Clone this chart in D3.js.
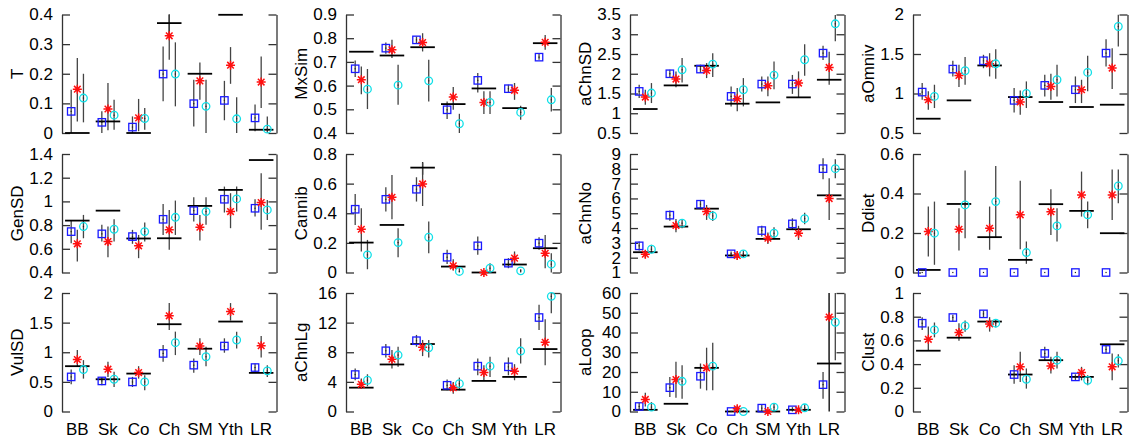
<!DOCTYPE html>
<html><head><meta charset="utf-8">
<script src="https://cdn.jsdelivr.net/npm/d3@7"></script>
<style>
body{margin:0;background:#fff;}
svg text{font-family:"Liberation Sans",Arial,sans-serif;}
</style></head>
<body><svg id="c" width="1131" height="441"></svg>
<script>
const categories = ["BB","Sk","Co","Ch","SM","Yth","LR"];
const panelNames = ["T","MxSim","aChnSD","aOmniv","GenSD","Cannib","aChnNo","Ddiet","VulSD","aChnLg","aLoop","Clust"];
const tickValues = [
  [0,0.1,0.2,0.3,0.4],[0.4,0.5,0.6,0.7,0.8,0.9],[0.5,1,1.5,2,2.5,3,3.5],[0.5,1,1.5,2],
  [0.4,0.6,0.8,1,1.2,1.4],[0,0.2,0.4,0.6,0.8],[1,2,3,4,5,6,7,8,9],[0,0.2,0.4,0.6],
  [0,0.5,1,1.5,2],[0,4,8,12,16],[0,10,20,30,40,50,60],[0,0.2,0.4,0.6,0.8,1]
];

// each entry: [value, low, high]; black reference entries may be [value] only
const T_black = [[0],[0.039],[0],[0.371,0.33,0.40],[0.2],[0.399],[0.011]];
const T_blue = [[0.073,0,0.146],[0.036,0,0.073],[0.02,0,0.056],[0.199,0.107,0.292],[0.099,0.022,0.18],[0.11,0.043,0.176],[0.051,0.006,0.096]];
const T_red = [[0.148,0.039,0.253],[0.081,0.009,0.169],[0.051,0.006,0.115],[0.328,0.247,0.40],[0.176,0.112,0.238],[0.229,0.166,0.29],[0.172,0.084,0.258]];
const T_cyan = [[0.118,0.036,0.2],[0.06,0.011,0.112],[0.049,0.011,0.084],[0.199,0.09,0.306],[0.09,0,0.18],[0.048,0,0.121],[0.013,0,0.056]];

const MxSim_black = [[0.743],[0.727],[0.762],[0.522],[0.588],[0.505],[0.779]];
const MxSim_blue = [[0.671,0.636,0.706],[0.758,0.734,0.782],[0.793,0.779,0.807],[0.498,0.459,0.533],[0.622,0.571,0.653],[0.587,0.569,0.604],[0.72,0.709,0.733]];
const MxSim_red = [[0.625,0.564,0.681],[0.751,0.716,0.793],[0.782,0.744,0.821],[0.552,0.498,0.594],[0.529,0.48,0.576],[0.58,0.54,0.611],[0.783,0.751,0.814]];
const MxSim_cyan = [[0.585,0.501,0.67],[0.602,0.519,0.688],[0.62,0.533,0.709],[0.439,0.4,0.481],[0.529,0.48,0.576],[0.487,0.456,0.515],[0.54,0.491,0.59]];

const aChnSD_black = [[1.107],[1.705],[2.202],[1.242],[1.275],[1.402],[1.848]];
const aChnSD_blue = [[1.553,1.385,1.722],[2.0,1.89,2.1],[2.118,2.02,2.23],[1.427,1.174,1.68],[1.739,1.55,1.93],[1.739,1.49,1.97],[2.522,2.35,2.71]];
const aChnSD_red = [[1.41,1.216,1.595],[1.865,1.66,2.06],[2.084,1.89,2.27],[1.368,1.048,1.64],[1.697,1.43,1.93],[1.764,1.40,2.06],[2.16,1.72,2.56]];
const aChnSD_cyan = [[1.511,1.258,1.764],[2.1,1.78,2.4],[2.244,1.92,2.52],[1.595,1.174,1.89],[1.966,1.61,2.31],[2.354,1.95,2.75],[3.264,2.82,3.49]];

const aOmniv_black = [[0.681],[0.913],[1.355],[0.955],[0.892],[0.829],[0.858]];
const aOmniv_blue = [[1.018,0.921,1.132],[1.309,1.216,1.414],[1.414,1.32,1.49],[0.913,0.761,1.069],[1.103,0.963,1.237],[1.048,0.879,1.216],[1.511,1.343,1.688]];
const aOmniv_red = [[0.921,0.795,1.027],[1.229,1.081,1.364],[1.376,1.216,1.51],[0.892,0.732,1.039],[1.09,0.921,1.25],[1.048,0.879,1.174],[1.322,1.056,1.574]];
const aOmniv_cyan = [[0.963,0.816,1.111],[1.288,1.111,1.461],[1.376,1.187,1.56],[1.0,0.816,1.153],[1.174,0.963,1.364],[1.267,1.027,1.478],[1.848,1.596,1.996]];

const GenSD_black = [[0.838],[0.922],[0.687],[0.689],[0.962],[1.097],[1.349]];
const GenSD_blue = [[0.745,0.647,0.844],[0.726,0.661,0.802],[0.703,0.642,0.76],[0.849,0.717,0.979],[0.922,0.83,1.035],[1.018,0.906,1.125],[0.942,0.872,1.018]];
const GenSD_red = [[0.642,0.493,0.76],[0.661,0.529,0.788],[0.625,0.521,0.717],[0.76,0.591,0.928],[0.782,0.67,0.886],[0.914,0.774,1.069],[0.99,0.76,1.237]];
const GenSD_cyan = [[0.788,0.689,0.886],[0.765,0.661,0.849],[0.745,0.661,0.821],[0.866,0.717,1.007],[0.914,0.802,1.035],[1.021,0.914,1.125],[0.928,0.844,1.012]];

const Cannib_black = [[0.202],[0.321],[0.708,0.66,0.745],[0.04],[0],[0.054],[0.164]];
const Cannib_blue = [[0.427,0.321,0.53],[0.494,0.411,0.575],[0.562,0.479,0.643],[0.103,0.058,0.153],[0.18,0.119,0.243],[0.063,0.029,0.097],[0.198,0.153,0.238]];
const Cannib_red = [[0.292,0.142,0.434],[0.508,0.36,0.658],[0.598,0.449,0.742],[0.045,0.013,0.09],[0,0,0],[0.097,0.052,0.142],[0.13,0.029,0.254]];
const Cannib_cyan = [[0.119,0.022,0.22],[0.202,0.103,0.299],[0.238,0.13,0.344],[0.007,0,0.029],[0.029,0,0.063],[0.011,0,0.022],[0.056,0,0.13]];

const aChnNo_black = [[2.37],[4.1],[5.31],[2.15],[3.27],[3.92],[6.21]];
const aChnNo_blue = [[2.8,2.48,3.09],[4.87,4.5,5.18],[5.61,5.27,5.9],[2.26,2.08,2.42],[3.83,3.43,4.15],[4.28,3.88,4.66],[8.01,7.29,8.71]];
const aChnNo_red = [[2.24,1.97,2.48],[4.17,3.72,4.62],[5.11,4.55,5.56],[2.15,1.85,2.42],[3.31,2.93,3.7],[3.65,3.2,4.15],[5.99,4.55,7.36]];
const aChnNo_cyan = [[2.57,2.3,2.87],[4.33,3.99,4.55],[4.82,4.48,5.16],[2.26,2.03,2.48],[3.65,3.25,4.06],[4.64,4.26,5.04],[8.01,7.36,8.64]];

const Ddiet_black = [[0.013],[0.347],[0.179],[0.064],[0.346],[0.312],[0.199]];
const Ddiet_blue = [[0],[0],[0],[0],[0],[0],[0]];
const Ddiet_red = [[0.207,0.081,0.334],[0.219,0.111,0.325],[0.224,0.115,0.334],[0.292,0.118,0.465],[0.308,0.19,0.421],[0.393,0.283,0.511],[0.393,0.266,0.522]];
const Ddiet_cyan = [[0.199,0.039,0.359],[0.342,0.174,0.516],[0.359,0.179,0.539],[0.101,0.044,0.157],[0.236,0.157,0.325],[0.292,0.224,0.359],[0.438,0.351,0.522]];

const VulSD_black = [[0.765],[0.544],[0.64],[1.473],[1.06],[1.518],[0.652]];
const VulSD_blue = [[0.584,0.459,0.708],[0.516,0.442,0.584],[0.499,0.414,0.584],[0.98,0.839,1.122],[0.782,0.652,0.895],[1.105,0.992,1.235],[0.742,0.652,0.81]];
const VulSD_red = [[0.878,0.754,1.037],[0.714,0.584,0.839],[0.657,0.555,0.765],[1.615,1.377,1.83],[1.105,0.952,1.235],[1.688,1.535,1.83],[1.11,0.912,1.275]];
const VulSD_cyan = [[0.708,0.555,0.867],[0.544,0.414,0.669],[0.499,0.357,0.612],[1.161,0.952,1.348],[0.924,0.765,1.093],[1.207,1.065,1.348],[0.686,0.584,0.782]];

const aChnLg_black = [[3.22],[6.35],[9.11],[2.95],[4.13],[4.67],[8.43]];
const aChnLg_blue = [[4.99,4.22,5.8],[8.2,7.3,9.11],[9.56,8.75,10.34],[3.54,2.86,4.31],[6.12,4.9,7.16],[6.03,4.9,7.3],[12.69,11.02,14.42]];
const aChnLg_red = [[3.67,3.08,4.44],[7.07,5.8,8.3],[8.66,7.48,9.66],[3.22,2.4,3.99],[5.26,4.22,6.26],[5.44,4.22,6.39],[9.34,6.26,12.47]];
const aChnLg_cyan = [[4.22,3.4,5.03],[7.62,6.03,8.75],[8.61,7.3,9.66],[3.76,2.86,4.58],[6.12,4.67,7.39],[8.16,6.48,9.88],[15.55,13.28,16]];

const aLoop_black = [[0.85],[3.91],[22.1],[0],[0],[0.85],[24.3,0,60]];
const aLoop_blue = [[2.55,0.5,4.25],[12.07,7.31,17.5],[17.85,11.56,24.3],[0,0,0],[1.7,0,3.4],[0.85,0,2.2],[13.6,6.46,20.06]];
const aLoop_red = [[6.12,2.55,9.52],[16.15,6.97,25.2],[22.1,10.7,32.3],[1.36,0,3.06],[0,0,0],[0.85,0,2.2],[47.8,26,60]];
const aLoop_cyan = [[2.21,0.5,4.76],[15.3,6.46,23.46],[22.95,10.7,34.85],[0,0,0.8],[2.21,0,4.25],[1.87,0.17,3.57],[45.2,26,60]];

const Clust_black = [[0.513],[0.623],[0.759],[0.312],[0.433],[0.292],[0.567]];
const Clust_blue = [[0.745,0.688,0.796],[0.793,0.759,0.816],[0.824,0.796,0.853],[0.312,0.235,0.391],[0.49,0.433,0.547],[0.292,0.263,0.314],[0.524,0.49,0.552]];
const Clust_red = [[0.609,0.513,0.717],[0.666,0.598,0.745],[0.739,0.674,0.796],[0.377,0.249,0.504],[0.385,0.32,0.462],[0.329,0.263,0.377],[0.377,0.263,0.49]];
const Clust_cyan = [[0.688,0.626,0.751],[0.722,0.674,0.768],[0.745,0.711,0.779],[0.272,0.193,0.363],[0.433,0.363,0.504],[0.263,0.221,0.306],[0.428,0.371,0.484]];

const panelData = [
  [T_black,T_blue,T_red,T_cyan],[MxSim_black,MxSim_blue,MxSim_red,MxSim_cyan],
  [aChnSD_black,aChnSD_blue,aChnSD_red,aChnSD_cyan],[aOmniv_black,aOmniv_blue,aOmniv_red,aOmniv_cyan],
  [GenSD_black,GenSD_blue,GenSD_red,GenSD_cyan],[Cannib_black,Cannib_blue,Cannib_red,Cannib_cyan],
  [aChnNo_black,aChnNo_blue,aChnNo_red,aChnNo_cyan],[Ddiet_black,Ddiet_blue,Ddiet_red,Ddiet_cyan],
  [VulSD_black,VulSD_blue,VulSD_red,VulSD_cyan],[aChnLg_black,aChnLg_blue,aChnLg_red,aChnLg_cyan],
  [aLoop_black,aLoop_blue,aLoop_red,aLoop_cyan],[Clust_black,Clust_blue,Clust_red,Clust_cyan]
];

const svg = d3.select("#c");
const colLeft = [62, 346, 630, 913];
const rowTop = [14.5, 154, 293];
const pw = 214.5, ph = 118.5;
const axisColor = "#333";
const errColor = "#444";
const fmt = d3.format("~g");
const FS = 17;

panelNames.forEach((name, p) => {
  const r = Math.floor(p / 4), c = p % 4;
  const L = colLeft[c], T = rowTop[r];
  const ticks = tickValues[p];
  const x = d3.scaleLinear().domain([0.5, 7.5]).range([L, L + pw]);
  const y = d3.scaleLinear().domain([ticks[0], ticks[ticks.length - 1]]).range([T + ph, T]);
  const g = svg.append("g");

  // axes
  const la = g.append("g").attr("transform", `translate(${L},0)`)
    .call(d3.axisLeft(y).tickValues(ticks).tickFormat(fmt).tickSize(-8).tickSizeOuter(0).tickPadding(9));
  const ra = g.append("g").attr("transform", `translate(${L + pw},0)`)
    .call(d3.axisRight(y).tickValues(ticks).tickFormat("").tickSize(-8).tickSizeOuter(0));
  [la, ra].forEach(a => {
    a.select(".domain").attr("stroke", axisColor).attr("stroke-width", 1.3);
    a.selectAll(".tick line").attr("stroke", axisColor).attr("stroke-width", 1.3);
  });
  la.selectAll(".tick text").attr("font-size", FS).attr("fill", "#000")
    .attr("font-family", '"Liberation Sans",Arial,sans-serif');

  g.append("text").attr("transform", `translate(${L - 45},${T + ph / 2}) rotate(-90)`)
    .attr("text-anchor", "middle").attr("dy", "0.35em").attr("font-size", FS).text(name);

  if (r === 2) {
    g.selectAll(".xl").data(categories).enter().append("text")
      .attr("x", (d, i) => x(i + 1)).attr("y", T + ph + 23)
      .attr("text-anchor", "middle").attr("font-size", FS).text(d => d);
  }

  const [blk, blu, red, cyn] = panelData[p];
  const clipY = v => Math.max(ticks[0], Math.min(ticks[ticks.length - 1], v));
  const series = [
    {d: blk, off: 0, col: "#000"},
    {d: blu, off: -0.2, col: errColor},
    {d: red, off: 0, col: errColor},
    {d: cyn, off: 0.2, col: errColor}
  ];
  // error bars
  series.forEach(s => {
    g.selectAll(null).data(s.d.filter(e => e.length === 3 && e[2] > e[1])).enter().append("line")
      .attr("x1", (e) => x(s.d.indexOf(e) + 1 + s.off))
      .attr("x2", (e) => x(s.d.indexOf(e) + 1 + s.off))
      .attr("y1", e => y(clipY(e[1]))).attr("y2", e => y(clipY(e[2])))
      .attr("stroke", s.col).attr("stroke-width", 1.3);
  });
  // black reference lines
  g.selectAll(null).data(blk).enter().append("line")
    .attr("x1", (e, i) => x(i + 1 - 0.4)).attr("x2", (e, i) => x(i + 1 + 0.4))
    .attr("y1", e => y(e[0])).attr("y2", e => y(e[0]))
    .attr("stroke", "#000").attr("stroke-width", 1.8);
  // blue squares
  const s = 3.7;
  g.selectAll(null).data(blu).enter().append("rect")
    .attr("x", (e, i) => x(i + 1 - 0.2) - s).attr("y", e => y(e[0]) - s)
    .attr("width", 2 * s).attr("height", 2 * s)
    .attr("fill", "none").attr("stroke", "#1a1aff").attr("stroke-width", 1.3);
  // red asterisks
  const a = 4.5, ad = 3.3;
  blk.forEach((_, i) => {
    const e = red[i];
    const cx = x(i + 1), cy = y(e[0]);
    const path = `M${cx - a},${cy}L${cx + a},${cy}M${cx},${cy - a}L${cx},${cy + a}` +
      `M${cx - ad},${cy - ad}L${cx + ad},${cy + ad}M${cx - ad},${cy + ad}L${cx + ad},${cy - ad}`;
    g.append("path").attr("d", path).attr("stroke", "#ff1010").attr("stroke-width", 1.5).attr("fill", "none");
  });
  // cyan circles
  g.selectAll(null).data(cyn).enter().append("circle")
    .attr("cx", (e, i) => x(i + 1 + 0.2)).attr("cy", e => y(e[0])).attr("r", 3.8)
    .attr("fill", "none").attr("stroke", "#10e0e8").attr("stroke-width", 1.3);
  // center dots
  [[blu, -0.2], [cyn, 0.2]].forEach(([d, off]) => {
    g.selectAll(null).data(d).enter().append("rect")
      .attr("x", (e, i) => x(i + 1 + off) - 0.6).attr("y", e => y(e[0]) - 0.6)
      .attr("width", 1.2).attr("height", 1.2).attr("fill", "#222");
  });
});
</script></body></html>
